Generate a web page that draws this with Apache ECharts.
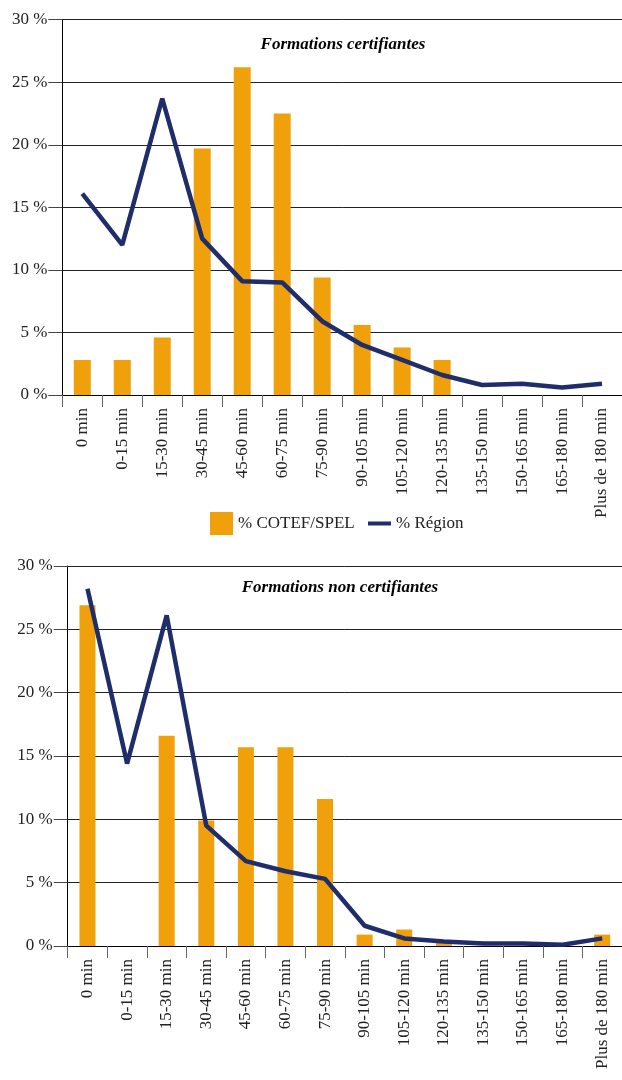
<!DOCTYPE html>
<html>
<head>
<meta charset="utf-8">
<script src="https://cdn.jsdelivr.net/npm/echarts@6/dist/echarts.min.js"></script>
<style>
html,body{margin:0;padding:0;background:#fff;}
#chart{width:622px;height:1080px;}
</style>
</head>
<body>
<div id="chart"></div>
<script>
var categories = ['0 min','0-15 min','15-30 min','30-45 min','45-60 min','60-75 min','75-90 min','90-105 min','105-120 min','120-135 min','135-150 min','150-165 min','165-180 min','Plus de 180 min'];
var yTicks = [0, 5, 10, 15, 20, 25, 30];
var certCotef = [2.8, 2.8, 4.6, 19.7, 26.2, 22.5, 9.4, 5.6, 3.8, 2.8, 0, 0, 0, 0];
var certRegion = [16.1, 12.0, 23.7, 12.5, 9.1, 9.0, 5.9, 4.0, 2.8, 1.6, 0.8, 0.9, 0.6, 0.9];
var nonCotef = [26.9, 0, 16.6, 9.9, 15.7, 15.7, 11.6, 0.9, 1.3, 0.4, 0, 0, 0, 0.9];
var nonRegion = [28.2, 14.4, 26.1, 9.5, 6.7, 5.9, 5.3, 1.6, 0.6, 0.35, 0.2, 0.2, 0.1, 0.6];
var titles = ['Formations certifiantes', 'Formations non certifiantes'];
var seriesNames = ['% COTEF/SPEL', '% Région'];

var FONT = '"Liberation Serif", "Times New Roman", serif';
var BAR = '#F0A00A';
var LINE = '#1F2D6B';

function xAxis(gi) {
  return {
    type: 'category', gridIndex: gi, data: categories, boundaryGap: true,
    axisLine: {lineStyle: {color: '#000', width: 1}},
    axisTick: {show: true, length: 12, alignWithLabel: false, lineStyle: {color: '#666'}},
    axisLabel: {rotate: 90, margin: 13, interval: 0, color: '#222', fontFamily: FONT, fontSize: 17}
  };
}
function yAxis(gi) {
  return {
    type: 'value', gridIndex: gi, min: yTicks[0], max: yTicks[yTicks.length - 1], interval: yTicks[1] - yTicks[0],
    axisLine: {show: true, lineStyle: {color: '#000', width: 1}},
    axisTick: {show: true, inside: false, length: 14, lineStyle: {color: '#444'}},
    axisLabel: {margin: 15, color: '#222', fontFamily: FONT, fontSize: 17, formatter: '{value} %'},
    splitLine: {show: true, lineStyle: {color: '#222', width: 1}}
  };
}

var option = {
  animation: false,
  backgroundColor: '#fff',
  title: [
    {text: titles[0], left: 338, top: 31, textAlign: 'center',
     textStyle: {fontFamily: FONT, fontSize: 17, fontWeight: 'bold', fontStyle: 'italic', color: '#000'}},
    {text: titles[1], left: 335, top: 574, textAlign: 'center',
     textStyle: {fontFamily: FONT, fontSize: 17, fontWeight: 'bold', fontStyle: 'italic', color: '#000'}}
  ],
  legend: [
    {data: [{name: seriesNames[0], icon: 'rect'}], left: 205, top: 507, itemWidth: 23, itemHeight: 23, itemGap: 0,
     textStyle: {fontFamily: FONT, fontSize: 17, color: '#222'}, selectedMode: false},
    {data: [{name: seriesNames[1], icon: 'rect'}], left: 363, top: 510, itemWidth: 23, itemHeight: 4, itemGap: 0,
     textStyle: {fontFamily: FONT, fontSize: 17, color: '#222'}, selectedMode: false}
  ],
  grid: [
    {left: 62.3, top: 19.7, width: 566, height: 375.3, containLabel: false},
    {left: 67.7, top: 566, width: 560, height: 380, containLabel: false}
  ],
  xAxis: [xAxis(0), xAxis(1)],
  yAxis: [yAxis(0), yAxis(1)],
  series: [
    {name: seriesNames[0], type: 'bar', xAxisIndex: 0, yAxisIndex: 0, data: certCotef, barWidth: 17,
     itemStyle: {color: BAR}},
    {name: seriesNames[1], type: 'line', xAxisIndex: 0, yAxisIndex: 0, data: certRegion, showSymbol: false, symbol: 'none',
     lineStyle: {color: LINE, width: 4.5}, itemStyle: {color: LINE}, z: 5},
    {name: seriesNames[0], type: 'bar', xAxisIndex: 1, yAxisIndex: 1, data: nonCotef, barWidth: 16,
     itemStyle: {color: BAR}},
    {name: seriesNames[1], type: 'line', xAxisIndex: 1, yAxisIndex: 1, data: nonRegion, showSymbol: false, symbol: 'none',
     lineStyle: {color: LINE, width: 4.5}, itemStyle: {color: LINE}, z: 5}
  ]
};

var chart = echarts.init(document.getElementById('chart'), null, {renderer: 'canvas'});
chart.setOption(option);
</script>
</body>
</html>
